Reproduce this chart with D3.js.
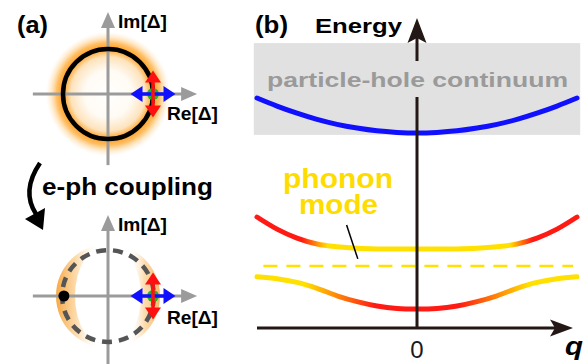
<!DOCTYPE html>
<html lang="en">
<head>
<meta charset="UTF-8">
<title>Amplitude mode and phonon hybridization</title>
<script src="https://cdn.jsdelivr.net/npm/d3@7"></script>
<style>
    body { margin: 0; background: #fff; }
    svg { display: block; font-family: "Liberation Sans", Arial, sans-serif; }
</style>
</head>
<body>
<div id="chart"></div>
<script>
    /*---------------- panel (b): dispersion data ----------------*/
    // momentum samples and energies (arbitrary units)
    const qValues       = [-1, -0.875, -0.75, -0.625, -0.5, -0.375, -0.25, -0.125, 0,
                           0.125, 0.25, 0.375, 0.5, 0.625, 0.75, 0.875, 1];
    const continuumEdge = [7.42, 7.16, 6.93, 6.73, 6.57, 6.45, 6.36, 6.31, 6.29,
                           6.31, 6.36, 6.45, 6.57, 6.73, 6.93, 7.16, 7.42];
    const upperBranch   = [3.58, 3.19, 2.90, 2.71, 2.62, 2.57, 2.55, 2.55, 2.55,
                           2.55, 2.55, 2.57, 2.62, 2.71, 2.90, 3.19, 3.58];
    const lowerBranch   = [1.65, 1.59, 1.47, 1.28, 1.04, 0.85, 0.71, 0.63, 0.61,
                           0.63, 0.71, 0.85, 1.04, 1.28, 1.47, 1.59, 1.65];
    const barePhonon    = 2.0;
    const barePhononQ   = [-0.96, 0.975];
    const continuumRange = [6.23, 9.19];
    const continuumQ     = [-1.02, 1.02];
    const labelPointer   = [[-0.44, 3.32], [-0.37, 2.23]];

    /*---------------- panel (a): order parameter plane ----------------*/
    const gapRadius      = 1.0;            // |Δ| before coupling
    const softRadius     = 1.02;           // dashed ring after coupling
    const pinnedPoint    = [-0.98, 0];     // black dot (Re, Im)
    const fluctPoint     = [1, 0];         // where the arrows sit
    const amplitudeSpan  = [-0.5, 0.5];    // blue arrow, along Re
    const phaseSpan      = [-0.52, 0.52];  // red arrow, along Im
    const axisRe         = [-1.67, 1.98];
    const axisImTop      = [-1.58, 1.82];
    const axisImBottom   = [-1.75, 1.8];

    const W = 587, H = 364;
    const svg = d3.select("#chart").append("svg").attr("width", W).attr("height", H);
    const defs = svg.append("defs");

    const ink = "#231815", yellow = "#ffe000", red = "#ff1a14", blue = "#1010ff";

    /*-------------------------------------------------------*/
    /*------------------------ (b) --------------------------*/
    /*-------------------------------------------------------*/
    const x = d3.scaleLinear().domain([-1, 1]).range([257, 577]);
    const y = d3.scaleLinear().domain([0, 10]).range([328, 18]);
    const line = d3.line().x((d, i) => x(qValues[i])).y(d => y(d)).curve(d3.curveCatmullRom);

    function hGrad(id, stops) {
        const g = defs.append("linearGradient").attr("id", id)
            .attr("gradientUnits", "userSpaceOnUse")
            .attr("x1", x(-1)).attr("x2", x(1)).attr("y1", 0).attr("y2", 0);
        stops.forEach(s => g.append("stop").attr("offset", s[0]).attr("stop-color", s[1]));
    }
    hGrad("upperGrad", [[0, red], [0.14, red], [0.22, yellow], [0.79, yellow], [0.86, red], [1, red]]);
    hGrad("lowerGrad", [[0, yellow], [0.15, yellow], [0.37, red], [0.63, red], [0.85, yellow], [1, yellow]]);

    const pb = svg.append("g");

    pb.append("rect")
        .attr("x", x(continuumQ[0])).attr("width", x(continuumQ[1]) - x(continuumQ[0]))
        .attr("y", y(continuumRange[1])).attr("height", y(continuumRange[0]) - y(continuumRange[1]))
        .attr("fill", "#e1e1e1");

    pb.append("path").attr("d", line(continuumEdge))
        .attr("fill", "none").attr("stroke", blue).attr("stroke-width", 5).attr("stroke-linecap", "round");

    pb.append("line")
        .attr("x1", x(barePhononQ[0])).attr("x2", x(barePhononQ[1]))
        .attr("y1", y(barePhonon)).attr("y2", y(barePhonon))
        .attr("stroke", yellow).attr("stroke-width", 2.5).attr("stroke-dasharray", "14 9");

    pb.append("path").attr("d", line(upperBranch))
        .attr("fill", "none").attr("stroke", "url(#upperGrad)").attr("stroke-width", 5).attr("stroke-linecap", "round");
    pb.append("path").attr("d", line(lowerBranch))
        .attr("fill", "none").attr("stroke", "url(#lowerGrad)").attr("stroke-width", 5).attr("stroke-linecap", "round");

    // axes
    pb.append("line").attr("x1", x(0)).attr("x2", x(0)).attr("y1", y(0)).attr("y2", 38)
        .attr("stroke", ink).attr("stroke-width", 3);
    pb.append("path").attr("fill", ink)
        .attr("d", `M${x(0)},18 L${x(0) + 9.5},43 L${x(0)},38 L${x(0) - 9.5},43 Z`);
    pb.append("line").attr("x1", x(-1)).attr("x2", 556).attr("y1", y(0)).attr("y2", y(0))
        .attr("stroke", ink).attr("stroke-width", 3);
    pb.append("path").attr("fill", ink)
        .attr("d", `M573,${y(0)} L550,${y(0) - 8.5} L555,${y(0)} L550,${y(0) + 8.5} Z`);

    // gap in the energy axis behind the continuum label
    pb.append("rect").attr("x", x(0) - 8).attr("width", 16).attr("y", 61).attr("height", 36).attr("fill", "#e1e1e1");

    pb.append("line")
        .attr("x1", x(labelPointer[0][0])).attr("y1", y(labelPointer[0][1]))
        .attr("x2", x(labelPointer[1][0])).attr("y2", y(labelPointer[1][1]))
        .attr("stroke", "#000").attr("stroke-width", 1.5);

    function label(parent, txt, px, py, size, len, opts = {}) {
        const t = parent.append("text").attr("x", px).attr("y", py)
            .attr("font-size", size).attr("font-weight", opts.weight || "bold")
            .attr("fill", opts.fill || "#000").text(txt);
        if (len) t.attr("textLength", len).attr("lengthAdjust", "spacingAndGlyphs");
        if (opts.anchor) t.attr("text-anchor", opts.anchor);
        if (opts.style) t.attr("font-style", opts.style);
        return t;
    }

    label(pb, "particle-hole continuum", 267, 87, 21, 301, { fill: "#9a9a9a" });
    label(pb, "(b)", 255, 33, 24, 33);
    label(pb, "Energy", 315, 33, 20, 87);
    label(pb, "phonon", 283, 188, 27, 110, { fill: "#ffdc00" });
    label(pb, "mode", 299, 214, 27, 79, { fill: "#ffdc00" });
    label(pb, "0", x(0), 358, 24, null, { weight: "normal", anchor: "middle", fill: ink });
    label(pb, "q", 565, 355, 26, 18, { style: "italic" });

    /*-------------------------------------------------------*/
    /*------------------------ (a) --------------------------*/
    /*-------------------------------------------------------*/
    const unit = 45;
    const re = d3.scaleLinear().domain([-1, 1]).range([108 - unit, 108 + unit]);
    const imTop = d3.scaleLinear().domain([-1, 1]).range([94 + unit, 94 - unit]);
    const imBot = d3.scaleLinear().domain([-1, 1]).range([296 + unit, 296 - unit]);

    function grayAxes(g, im, imExtent) {
        const c = "#9b9b9b";
        g.append("line").attr("x1", re(axisRe[0])).attr("x2", re(axisRe[1]) - 12)
            .attr("y1", im(0)).attr("y2", im(0)).attr("stroke", c).attr("stroke-width", 3);
        g.append("path").attr("fill", c)
            .attr("d", `M${re(axisRe[1])},${im(0)} L${re(axisRe[1]) - 16},${im(0) - 7} L${re(axisRe[1]) - 16},${im(0) + 7} Z`);
        g.append("line").attr("x1", re(0)).attr("x2", re(0))
            .attr("y1", im(imExtent[0])).attr("y2", im(imExtent[1]) + 12).attr("stroke", c).attr("stroke-width", 3);
        g.append("path").attr("fill", c)
            .attr("d", `M${re(0)},${im(imExtent[1])} L${re(0) - 7},${im(imExtent[1]) + 16} L${re(0) + 7},${im(imExtent[1]) + 16} Z`);
    }

    function doubleArrow(g, x1, y1, x2, y2, color) {
        const dx = x2 - x1, dy = y2 - y1, L = Math.hypot(dx, dy);
        const ux = dx / L, uy = dy / L, nx = -uy, ny = ux;
        const hl = 12, hw = 8;
        g.append("line").attr("x1", x1 + ux * hl * 0.8).attr("y1", y1 + uy * hl * 0.8)
            .attr("x2", x2 - ux * hl * 0.8).attr("y2", y2 - uy * hl * 0.8)
            .attr("stroke", color).attr("stroke-width", 3.5);
        [[x1, y1, 1], [x2, y2, -1]].forEach(([px, py, s]) => {
            const bx = px + s * ux * hl, by = py + s * uy * hl;
            g.append("path").attr("fill", color)
                .attr("d", `M${px},${py} L${bx + nx * hw},${by + ny * hw} L${bx - nx * hw},${by - ny * hw} Z`);
        });
    }

    function fluctuation(g, im) {
        const cx = re(fluctPoint[0]), cy = im(fluctPoint[1]);
        g.append("circle").attr("cx", cx).attr("cy", cy).attr("r", 6).attr("fill", "#22b02a");
        doubleArrow(g, re(fluctPoint[0] + amplitudeSpan[0]), cy, re(fluctPoint[0] + amplitudeSpan[1]), cy, blue);
        doubleArrow(g, cx, im(phaseSpan[1]), cx, im(phaseSpan[0]), "#ff1010");
    }

    // upper diagram: free order parameter with glow
    const glow = defs.append("radialGradient").attr("id", "glow")
        .attr("gradientUnits", "userSpaceOnUse").attr("cx", re(0)).attr("cy", imTop(0)).attr("r", 62);
    [[0, "#ffffff", 1], [0.38, "#fffbf4", 1], [0.6, "#fde3bd", 1], [0.73, "#ff9d1a", 1],
     [0.83, "#ffaa33", 0.75], [0.92, "#ffc878", 0.35], [1, "#ffd9a0", 0]]
        .forEach(s => glow.append("stop").attr("offset", s[0]).attr("stop-color", s[1]).attr("stop-opacity", s[2]));

    const upperG = svg.append("g");
    upperG.append("circle").attr("cx", re(0)).attr("cy", imTop(0)).attr("r", 62).attr("fill", "url(#glow)");
    grayAxes(upperG, imTop, axisImTop);
    upperG.append("circle").attr("cx", re(0)).attr("cy", imTop(0)).attr("r", unit * gapRadius)
        .attr("fill", "none").attr("stroke", "#000").attr("stroke-width", 4.5);
    fluctuation(upperG, imTop);

    label(svg, "(a)", 17, 33, 24, 31);
    label(svg, "Im[Δ]", 118, 28, 18, 49);
    label(svg, "Re[Δ]", 167, 120, 19, 51);

    // curved arrow and coupling label
    svg.append("path").attr("d", "M40,163 Q21,191 36,214")
        .attr("fill", "none").attr("stroke", "#000").attr("stroke-width", 4.5);
    svg.append("path").attr("d", "M43,230 L25,219 L45,208 Z").attr("fill", "#000");
    label(svg, "e-ph coupling", 42, 195, 23, 171);

    // lower diagram: pinned order parameter
    const cres = defs.append("linearGradient").attr("id", "cres")
        .attr("gradientUnits", "userSpaceOnUse").attr("x1", 55).attr("x2", 160).attr("y1", 0).attr("y2", 0);
    [[0, "#f6a032", 0.95], [0.2, "#fbcf90", 0.75], [0.42, "#ffffff", 0], [0.7, "#ffffff", 0],
     [0.85, "#fbc57c", 0.6], [1, "#f7a540", 0.8]]
        .forEach(s => cres.append("stop").attr("offset", s[0]).attr("stop-color", s[1]).attr("stop-opacity", s[2]));

    const lowerG = svg.append("g");
    const bx = re(0), by = imBot(0);
    lowerG.append("path").attr("fill-rule", "evenodd").attr("fill", "url(#cres)")
        .attr("d", `M${bx - 52},${by} A52,52 0 1,0 ${bx + 52},${by} A52,52 0 1,0 ${bx - 52},${by} Z ` +
                   `M${bx - 33},${by} A33,52 0 1,0 ${bx + 33},${by} A33,52 0 1,0 ${bx - 33},${by} Z`);
    grayAxes(lowerG, imBot, axisImBottom);
    lowerG.append("circle").attr("cx", bx).attr("cy", by).attr("r", unit * softRadius)
        .attr("fill", "none").attr("stroke", "#555").attr("stroke-width", 4.5).attr("stroke-dasharray", "10 7");
    lowerG.append("circle").attr("cx", re(pinnedPoint[0])).attr("cy", imBot(pinnedPoint[1])).attr("r", 5.5).attr("fill", "#000");
    fluctuation(lowerG, imBot);

    label(svg, "Im[Δ]", 118, 231, 18, 49);
    label(svg, "Re[Δ]", 167, 324, 19, 51);
</script>
</body>
</html>
